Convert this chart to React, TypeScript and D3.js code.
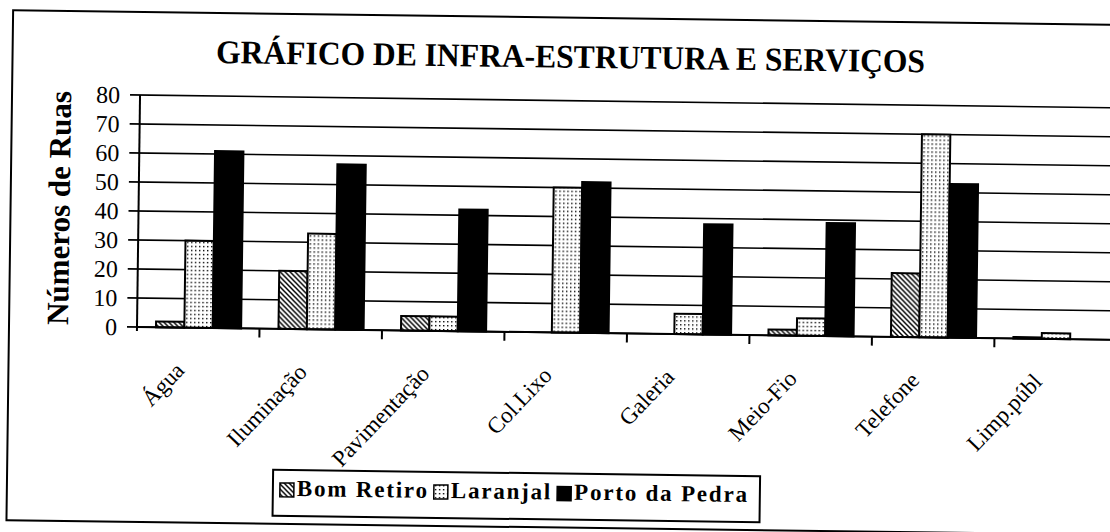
import React, { useEffect, useRef } from 'react';
import * as d3 from 'd3';

const categories = ['Água', 'Iluminação', 'Pavimentação', 'Col.Lixo', 'Galeria', 'Meio-Fio', 'Telefone', 'Limp.públ'];
const series = ['Bom Retiro', 'Laranjal', 'Porto da Pedra'];
const bomRetiro = [2, 20, 5, 0, 0, 2, 22, 0.5];
const laranjal = [30, 33, 5, 50, 7, 6, 70, 2];
const portoDaPedra = [61, 57, 42, 52, 38, 39, 53, 0];
const yTicks = [0, 10, 20, 30, 40, 50, 60, 70, 80];
const chartTitle = 'GRÁFICO DE INFRA-ESTRUTURA E SERVIÇOS';
const yTitle = 'Números de Ruas';

const App = () => {
  const svgRef = useRef<SVGSVGElement>(null);

  useEffect(() => {
    const svg = d3.select(svgRef.current);
    svg.selectAll('*').remove();

    const left = 137, right = 1117, bottom = 327, top = 95;
    const tilt = 0.75; // the scanned page sits slightly crooked
    const serif = '"Liberation Serif", "Times New Roman", serif';

    // fill patterns of the printed chart
    const defs = svg.append('defs');
    const hatch = defs.append('pattern').attr('id', 'hatch')
      .attr('patternUnits', 'userSpaceOnUse').attr('width', 5).attr('height', 5);
    hatch.append('rect').attr('width', 5).attr('height', 5).attr('fill', '#fff');
    hatch.append('path').attr('d', 'M0,0L5,5M-1,4L1,6M4,-1L6,1')
      .attr('stroke', '#000').attr('stroke-width', 1.5);
    const dots = defs.append('pattern').attr('id', 'dots')
      .attr('patternUnits', 'userSpaceOnUse').attr('width', 4).attr('height', 4);
    dots.append('rect').attr('width', 4).attr('height', 4).attr('fill', '#fff');
    dots.append('rect').attr('x', 1).attr('y', 1).attr('width', 1.4).attr('height', 1.4).attr('fill', '#000');

    const fill = d3.scaleOrdinal<string, string>()
      .domain(series)
      .range(['url(#hatch)', 'url(#dots)', '#000']);

    const table = categories.map((c, i) => ({
      category: c,
      values: [bomRetiro[i], laranjal[i], portoDaPedra[i]].map((v, j) => ({ key: series[j], value: v })),
    }));

    const x0 = d3.scaleBand().domain(categories).range([left, right]);
    const bw = x0.bandwidth();
    const x1 = d3.scaleBand().domain(series).range([0.155 * bw, 0.85 * bw]);
    const y = d3.scaleLinear().domain([0, 80]).range([bottom, top]);

    const g = svg.append('g').attr('transform', `rotate(${tilt},${left},${bottom})`);

    // outer frame
    g.append('rect')
      .attr('x', 9).attr('y', 12).attr('width', 1300).attr('height', 510)
      .attr('fill', 'none').attr('stroke', '#000').attr('stroke-width', 2);

    // title
    g.append('text')
      .attr('x', 567).attr('y', 62)
      .attr('text-anchor', 'middle')
      .attr('font-family', serif).attr('font-weight', 'bold').attr('font-size', 33)
      .attr('textLength', 709).attr('lengthAdjust', 'spacingAndGlyphs')
      .text(chartTitle);

    // y axis title
    g.append('text')
      .attr('transform', 'translate(68,209) rotate(-90)')
      .attr('text-anchor', 'middle')
      .attr('font-family', serif).attr('font-weight', 'bold').attr('font-size', 31)
      .attr('textLength', 234).attr('lengthAdjust', 'spacingAndGlyphs')
      .text(yTitle);

    // gridlines incl. tick marks
    g.append('g').selectAll('line')
      .data(yTicks)
      .join('line')
      .attr('x1', left - 10).attr('x2', right)
      .attr('y1', d => y(d)).attr('y2', d => y(d))
      .attr('stroke', '#000').attr('stroke-width', 1.6);

    g.append('g').selectAll('text')
      .data(yTicks)
      .join('text')
      .attr('x', 117).attr('y', d => y(d)).attr('dy', '0.35em')
      .attr('text-anchor', 'end')
      .attr('font-family', serif).attr('font-size', 24)
      .text(d => d);

    // bars
    const groups = g.append('g').selectAll('g')
      .data(table)
      .join('g')
      .attr('transform', d => `translate(${x0(d.category)},0)`);
    groups.selectAll('rect')
      .data(d => d.values.filter(v => v.value > 0))
      .join('rect')
      .attr('x', d => x1(d.key)!)
      .attr('y', d => y(d.value))
      .attr('width', x1.bandwidth())
      .attr('height', d => y(0) - y(d.value))
      .attr('fill', d => fill(d.key))
      .attr('stroke', '#000').attr('stroke-width', 2);

    // axes
    g.append('line')
      .attr('x1', left).attr('x2', left).attr('y1', top).attr('y2', bottom + 4)
      .attr('stroke', '#000').attr('stroke-width', 2);
    g.append('line')
      .attr('x1', left).attr('x2', right).attr('y1', bottom).attr('y2', bottom)
      .attr('stroke', '#000').attr('stroke-width', 2);
    g.append('g').selectAll('line')
      .data(categories)
      .join('line')
      .attr('x1', d => x0(d)! + bw).attr('x2', d => x0(d)! + bw)
      .attr('y1', bottom).attr('y2', bottom + 9)
      .attr('stroke', '#000').attr('stroke-width', 2);

    // category labels
    g.append('g').selectAll('text')
      .data(categories)
      .join('text')
      .attr('transform', d => `translate(${x0(d)! + bw / 2 - 12},371) rotate(-47)`)
      .attr('text-anchor', 'end')
      .attr('font-family', serif).attr('font-size', 23)
      .text(d => d);

    // legend
    const lx = 275, ly = 468, lw = 487, lh = 46;
    const legend = g.append('g');
    legend.append('rect')
      .attr('x', lx).attr('y', ly).attr('width', lw).attr('height', lh)
      .attr('fill', '#fff').attr('stroke', '#000').attr('stroke-width', 2);
    const items = legend.selectAll('g.item')
      .data(series)
      .join('g').attr('class', 'item');
    const sw = 14, padL = 7, padR = 11, swGap = 3, itemGap = 5;
    const labels = items.append('text')
      .attr('y', ly + 26)
      .attr('font-family', serif).attr('font-weight', 'bold').attr('font-size', 23)
      .text(d => d);
    const widths = labels.nodes().map(n => (n as SVGTextElement).getComputedTextLength());
    const chars = d3.sum(series, s => s.length);
    const avail = lw - padL - padR - series.length * (sw + swGap) - (series.length - 1) * itemGap;
    const spacing = Math.max(0, (avail - d3.sum(widths)) / chars);
    labels.attr('letter-spacing', spacing);
    let cursor = lx + padL;
    items.each(function (d, i) {
      const it = d3.select(this);
      it.append('rect')
        .attr('x', cursor).attr('y', ly + 13).attr('width', sw).attr('height', sw)
        .attr('fill', fill(d)).attr('stroke', '#000').attr('stroke-width', 1.5);
      it.select('text').attr('x', cursor + sw + swGap);
      cursor += sw + swGap + widths[i] + spacing * d.length + itemGap;
    });
  }, []);

  return (
    <svg
      ref={svgRef}
      width={1110}
      height={532}
      style={{ position: 'absolute', left: 0, top: 0, background: '#fff', display: 'block' }}
    />
  );
};

export default App;
